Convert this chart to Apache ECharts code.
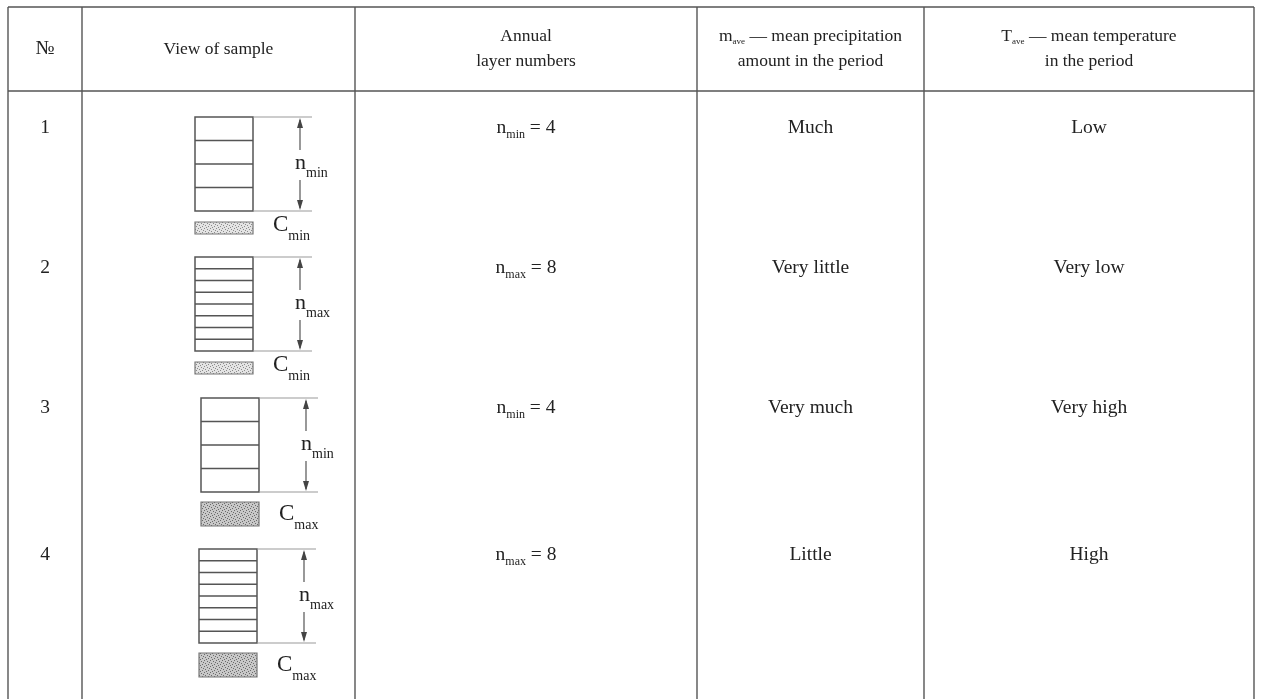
<!DOCTYPE html>
<html><head><meta charset="utf-8">
<script src="https://cdn.jsdelivr.net/npm/echarts@6/dist/echarts.min.js"></script>
<style>html,body{margin:0;padding:0;background:#fff}#c{width:1262px;height:699px}</style>
</head><body><div id="c"></div>
<script>
// ---------- data ----------
const rowNumbers = ['1', '2', '3', '4'];
const layerCounts = [4, 8, 4, 8];
const layerKind = ['min', 'max', 'min', 'max'];
const carbonKind = ['min', 'min', 'max', 'max'];
const precipitation = ['Much', 'Very little', 'Very much', 'Little'];
const temperature = ['Low', 'Very low', 'Very high', 'High'];
const headerNo = '№';
const headerView = 'View of sample';
const headerAnnual = ['Annual', 'layer numbers'];
const headerPrecip = ['m', 'ave', ' — mean precipitation', 'amount in the period'];
const headerTemp = ['T', 'ave', ' — mean temperature', 'in the period'];

// ---------- layout (not data) ----------
const W = 1262, H = 699;
const COLS = [8, 82, 355, 697, 924, 1254];
const TOP = 7, HEAD_BOTTOM = 91;
const ROW_Y = [128, 268, 408, 555];
const DIAG_TOP = [117, 257, 398, 549];
const DIAG_LEFT = [195, 195, 201, 199];
const FONT = '"Liberation Serif", "Times New Roman", serif';
const TXT = '#222';
const LINE = '#555';

const mctx = document.createElement('canvas').getContext('2d');
function tw(t, s) { mctx.font = s + 'px ' + FONT; return mctx.measureText(t).width; }
function txt(t, x, y, s, align) {
  return { type: 'text', x: x, y: y, style: { text: t, fill: TXT, font: s + 'px ' + FONT, align: align || 'center', verticalAlign: 'middle' } };
}
// parts: [text, size, dy]
function mixed(parts, cx, cy, align) {
  let total = 0; parts.forEach(p => total += tw(p[0], p[1]));
  let x = align === 'left' ? cx : cx - total / 2;
  const out = [];
  parts.forEach(p => { out.push(txt(p[0], x, cy + p[2], p[1], 'left')); x += tw(p[0], p[1]); });
  return out;
}
function stipple(bg, dot) {
  const c = document.createElement('canvas'); c.width = 6; c.height = 6;
  const g = c.getContext('2d'); g.fillStyle = bg; g.fillRect(0, 0, 6, 6);
  g.fillStyle = dot;
  [[0,0],[3,1],[1,3],[4,4],[2,5],[5,2]].forEach(d => g.fillRect(d[0], d[1], 1, 1));
  return { image: c, repeat: 'repeat' };
}
const patMin = stipple('#e4e4e4', '#8a8a8a');
const patMax = stipple('#c8c8c8', '#6a6a6a');

const chart = echarts.init(document.getElementById('c'), null, { renderer: 'canvas' });

function frameRender(params, api) {
  const ch = [];
  const p = (x, y) => api.coord([x, y]);
  COLS.forEach(x => {
    const a = p(x, TOP), b = p(x, H);
    ch.push({ type: 'line', shape: { x1: a[0], y1: a[1], x2: b[0], y2: b[1] }, style: { stroke: LINE, lineWidth: 1.4 } });
  });
  [TOP, HEAD_BOTTOM].forEach(y => {
    const a = p(COLS[0], y), b = p(COLS[COLS.length - 1], y);
    ch.push({ type: 'line', shape: { x1: a[0], y1: a[1], x2: b[0], y2: b[1] }, style: { stroke: LINE, lineWidth: 1.4 } });
  });
  const hc = i => (COLS[i] + COLS[i + 1]) / 2;
  const mid = p(0, (TOP + HEAD_BOTTOM) / 2)[1];
  const l1 = mid - 13, l2 = mid + 12;
  const HS = 17.5;
  ch.push(txt(headerNo, p(hc(0), 0)[0], mid, 20));
  ch.push(txt(headerView, p(hc(1), 0)[0], mid, HS));
  ch.push(txt(headerAnnual[0], p(hc(2), 0)[0], l1, HS));
  ch.push(txt(headerAnnual[1], p(hc(2), 0)[0], l2, HS));
  mixed([[headerPrecip[0], HS, 0], [headerPrecip[1], 9, 6], [headerPrecip[2], HS, 0]], p(hc(3), 0)[0], l1).forEach(e => ch.push(e));
  ch.push(txt(headerPrecip[3], p(hc(3), 0)[0], l2, HS));
  mixed([[headerTemp[0], HS, 0], [headerTemp[1], 9, 6], [headerTemp[2], HS, 0]], p(hc(4), 0)[0], l1).forEach(e => ch.push(e));
  ch.push(txt(headerTemp[3], p(hc(4), 0)[0], l2, HS));
  return { type: 'group', children: ch };
}

function rowRender(params, api) {
  const i = params.dataIndex;
  const ch = [];
  const y = api.coord([0, ROW_Y[i]])[1];
  const cx = k => api.coord([(COLS[k] + COLS[k + 1]) / 2, 0])[0];
  const BS = 19.5;
  ch.push(txt(rowNumbers[i], cx(0), y, BS));
  mixed([['n', BS, 0], [layerKind[i], 12, 7], [' = ' + layerCounts[i], BS, 0]], cx(2), y).forEach(e => ch.push(e));
  ch.push(txt(precipitation[i], cx(3), y, BS));
  ch.push(txt(temperature[i], cx(4), y, BS));

  // sample diagram
  const L = api.coord([DIAG_LEFT[i], 0])[0];
  const T = api.coord([0, DIAG_TOP[i]])[1];
  const w = 58, h = 94;
  const n = layerCounts[i];
  ch.push({ type: 'rect', shape: { x: L, y: T, width: w, height: h }, style: { fill: '#fff', stroke: '#555', lineWidth: 1.5 } });
  for (let k = 1; k < n; k++) {
    const yy = T + h * k / n;
    ch.push({ type: 'line', shape: { x1: L, y1: yy, x2: L + w, y2: yy }, style: { stroke: '#555', lineWidth: 1.3 } });
  }
  [T, T + h].forEach(yy => ch.push({ type: 'line', shape: { x1: L + w, y1: yy, x2: L + 117, y2: yy }, style: { stroke: '#999', lineWidth: 1 } }));
  const ax = L + 105;
  ch.push({ type: 'line', shape: { x1: ax, y1: T + 3, x2: ax, y2: T + 33 }, style: { stroke: '#444', lineWidth: 1.1 } });
  ch.push({ type: 'line', shape: { x1: ax, y1: T + 63, x2: ax, y2: T + h - 3 }, style: { stroke: '#444', lineWidth: 1.1 } });
  ch.push({ type: 'polygon', shape: { points: [[ax, T + 1], [ax - 3, T + 11], [ax + 3, T + 11]] }, style: { fill: '#444' } });
  ch.push({ type: 'polygon', shape: { points: [[ax, T + h - 1], [ax - 3, T + h - 11], [ax + 3, T + h - 11]] }, style: { fill: '#444' } });
  mixed([['n', 22, 0], [layerKind[i], 14, 10]], L + 100, T + 46, 'left').forEach(e => ch.push(e));

  // carbonate layer
  const big = carbonKind[i] === 'max';
  const cy0 = T + (big ? 104 : 105), chh = big ? 24 : 12;
  ch.push({ type: 'rect', shape: { x: L, y: cy0, width: w, height: chh }, style: { fill: big ? patMax : patMin, stroke: '#777', lineWidth: 1.2 } });
  const cc = big ? T + 116 : T + 108;
  mixed([['C', 23, 0], [carbonKind[i], 14, 11]], L + 78, cc, 'left').forEach(e => ch.push(e));
  return { type: 'group', children: ch };
}

chart.setOption({
  animation: false,
  backgroundColor: '#fff',
  grid: { left: 0, right: 0, top: 0, bottom: 0 },
  xAxis: { type: 'value', min: 0, max: W, show: false },
  yAxis: { type: 'value', min: 0, max: H, inverse: true, show: false },
  series: [
    { type: 'custom', name: 'frame', data: [0], renderItem: frameRender, silent: true },
    { type: 'custom', name: 'rows', data: rowNumbers.map((r, i) => [i, layerCounts[i]]), renderItem: rowRender, silent: true }
  ]
});
</script>
</body></html>
